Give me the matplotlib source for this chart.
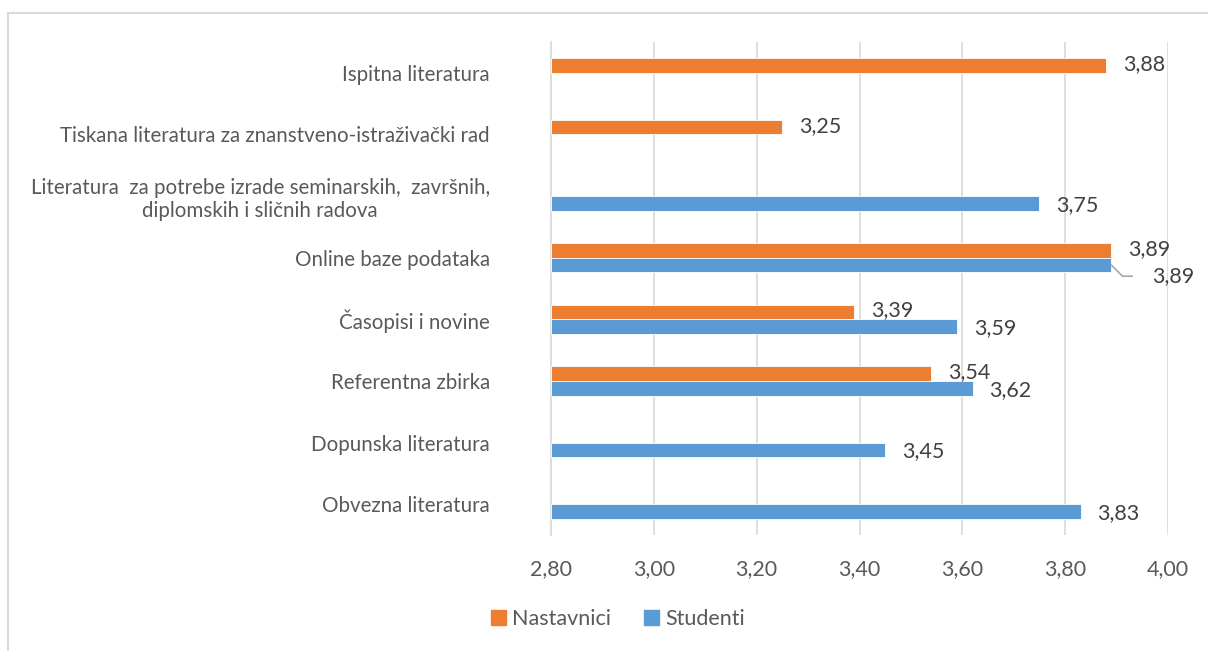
import matplotlib.pyplot as plt
from matplotlib.patches import Rectangle
from matplotlib.ticker import FuncFormatter

plt.rcParams['font.family'] = ['Lato', 'DejaVu Sans']

# categories listed bottom -> top
categories = [
    'Obvezna literatura',
    'Dopunska literatura',
    'Referentna zbirka',
    'Časopisi i novine',
    'Online baze podataka',
    'Literatura  za potrebe izrade seminarskih,  završnih,\ndiplomskih i sličnih radova',
    'Tiskana literatura za znanstveno-istraživački rad',
    'Ispitna literatura',
]
nastavnici = [None, None, 3.54, 3.39, 3.89, None, 3.25, 3.88]
studenti = [3.83, 3.45, 3.62, 3.59, 3.89, 3.75, None, None]
xticks = [2.8, 3.0, 3.2, 3.4, 3.6, 3.8, 4.0]

orange = '#ED7D31'
blue = '#5B9BD5'
txt = '#595959'
grid = '#D9D9D9'

fig = plt.figure(figsize=(12.08, 6.51), dpi=100)
ax = fig.add_axes([551 / 1208, 1 - 535 / 651, 617 / 1208, 493 / 651])

h = 0.24
fmt = lambda v: f'{v:.2f}'.replace('.', ',')
vsize = 15.5

for i, (n, s) in enumerate(zip(nastavnici, studenti)):
    if n is not None:
        ax.barh(i + h / 2, n - 2.8, left=2.8, height=h, color=orange,
                edgecolor='white', linewidth=0.6, zorder=3)
    if s is not None:
        ax.barh(i - h / 2, s - 2.8, left=2.8, height=h, color=blue,
                edgecolor='white', linewidth=0.6, zorder=3)

# value labels
for i, (n, s) in enumerate(zip(nastavnici, studenti)):
    if n is not None:
        ax.annotate(fmt(n), (n, i + h / 2), xytext=(12, 1), textcoords='offset points',
                    va='center', ha='left', fontsize=vsize, color='#404040', zorder=5)
    if s is not None:
        if n is not None and abs(n - s) < 0.02:
            ax.annotate(fmt(s), (s, i - h / 2), xytext=(29, -8), textcoords='offset points',
                        va='center', ha='left', fontsize=vsize, color='#404040', zorder=5,
                        arrowprops=dict(arrowstyle='-', color='#A6A6A6', lw=1.2,
                                        shrinkA=12, shrinkB=0,
                                        connectionstyle='angle,angleA=0,angleB=-45,rad=0'))
        else:
            ax.annotate(fmt(s), (s, i - h / 2), xytext=(12, -1), textcoords='offset points',
                        va='center', ha='left', fontsize=vsize, color='#404040', zorder=5)

ax.set_xlim(2.8, 4.0)
ax.set_ylim(-0.5, len(categories) - 0.5)
ax.set_xticks(xticks)
ax.xaxis.set_major_formatter(FuncFormatter(lambda v, p: fmt(v)))
ax.set_yticks(range(len(categories)))
ax.set_yticklabels(categories, multialignment='center')
ax.tick_params(axis='both', length=0, labelcolor=txt)
ax.tick_params(axis='y', pad=44, labelsize=14.8)
ax.tick_params(axis='x', pad=17, labelsize=15.5)
ax.grid(axis='x', color=grid, linewidth=1.2, zorder=0)
for side in ['top', 'right', 'bottom']:
    ax.spines[side].set_visible(False)
ax.spines['left'].set_color(grid)
ax.spines['left'].set_linewidth(1.2)

handles = [Rectangle((0, 0), 1, 1, color=orange), Rectangle((0, 0), 1, 1, color=blue)]
fig.legend(handles, ['Nastavnici', 'Studenti'], loc='center', bbox_to_anchor=(618 / 1208, 1 - 619 / 651),
           ncol=2, frameon=False, fontsize=15.5, labelcolor=txt, handlelength=0.7,
           handleheight=0.7, handletextpad=0.3, columnspacing=1.5)

fig.patches.append(Rectangle((8 / 1208, -0.1), 1.1, 1.1 - 13 / 651, transform=fig.transFigure,
                             fill=False, edgecolor=grid, linewidth=1.5))

fig.savefig('out.png', dpi=100, facecolor='white')
